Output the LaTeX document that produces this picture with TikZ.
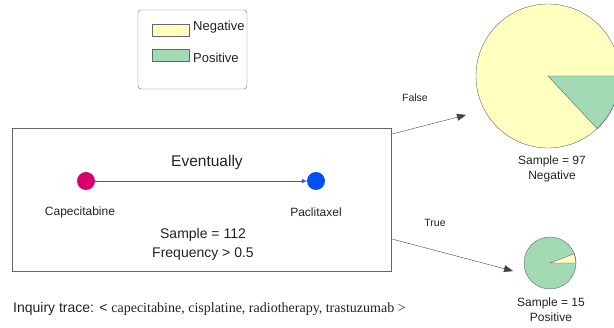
\documentclass[tikz,border=0pt]{standalone}
\usepackage{fontspec}
\setmainfont{Liberation Sans}
\newfontfamily\tracefont{Liberation Serif}
\usetikzlibrary{positioning, arrows.meta}
\definecolor{borde}{HTML}{666666}
\definecolor{negativo}{HTML}{FFFFC0}
\definecolor{positivo}{HTML}{A3D9B5}
\definecolor{rosa}{HTML}{D6006F}
\definecolor{azul}{HTML}{0050EF}
\definecolor{linea}{HTML}{4747E6}
\definecolor{flecha}{HTML}{444444}
\definecolor{texto}{HTML}{222222}
\tikzset{
  swatch/.style={draw=borde, minimum width=37pt, minimum height=12pt, inner sep=0pt},
  drugdot/.style={circle, minimum size=18pt, inner sep=0pt},
  branch/.style={draw=flecha, -{Triangle[length=9pt, width=7pt]}},
  lbl/.style={text=texto, align=center, inner sep=0pt},
}

\begin{document}
\begin{tikzpicture}[x=1pt, y=-1pt]
			\useasboundingbox (0,0) rectangle (614,328);
			% legend
			\node[draw=borde, rounded corners=3pt, minimum width=109pt, minimum height=79pt] (legend) at (192.5,49.5) {};
			\node[swatch, fill=negativo] (negsw) at (170.5,30) {};
			\node[swatch, fill=positivo] (possw) at (170.5,55) {};
			\node[lbl, anchor=west, font=\fontsize{13}{15}\selectfont] (neglbl) at (193,27) {Negative};
			\node[lbl, anchor=west, font=\fontsize{13}{15}\selectfont] (poslbl) at (193,58) {Positive};
			% pattern box
			\node[draw=borde, minimum width=379pt, minimum height=143pt] (box) at (201.5,199.5) {};
			\node[lbl, font=\fontsize{15.5}{18}\selectfont] (event) at (207,162) {Eventually};
			\node[drugdot, fill=rosa] (cape) at (86,181) {};
			\node[drugdot, fill=azul] (pacli) at (316,181) {};
			\draw[linea, -{Triangle[length=5pt, width=4pt]}] (cape) -- (pacli);
			\node[lbl, font=\fontsize{12}{14}\selectfont] (capelbl) at (80,212) {Capecitabine};
			\node[lbl, font=\fontsize{12}{14}\selectfont] (paclilbl) at (316,212) {Paclitaxel};
			\node[lbl, font=\fontsize{14}{19}\selectfont] (stats) at (203,244.5) {Sample = 112\\Frequency > 0.5};
			% negative leaf
			\begin{scope}
				\clip (0,0) rectangle (614,328);
				\node[circle, minimum size=144pt, inner sep=0pt] (negpie) at (548,76) {};
				\fill[negativo] (negpie.center) circle (72);
				\fill[positivo, draw=borde] (negpie.center) -- ++(72,0) arc[start angle=0, end angle=47, radius=72] -- cycle;
				\draw[borde] (negpie.center) circle (72);
			\end{scope}
			\node[lbl, font=\fontsize{12}{15}\selectfont] (neginfo) at (552,168.5) {Sample = 97\\Negative};
			% positive leaf
			\node[circle, minimum size=52pt, inner sep=0pt] (pospie) at (550,263) {};
			\fill[positivo] (pospie.center) circle (26);
			\fill[negativo, draw=borde] (pospie.center) -- ++(26,0) arc[start angle=0, end angle=-21, radius=26] -- cycle;
			\draw[borde] (pospie.center) circle (26);
			\node[lbl, font=\fontsize{12}{15}\selectfont] (posinfo) at (551,310) {Sample = 15\\Positive};
			% branches
			\coordinate (falsestart) at (392,134);
			\coordinate (falseend) at (466,115);
			\coordinate (truestart) at (392,239);
			\coordinate (trueend) at (513,271);
			\draw[branch] (falsestart) -- (falseend);
			\draw[branch] (truestart) -- (trueend);
			\node[lbl, font=\fontsize{10.5}{12}\selectfont] (falselbl) at (415,98) {False};
			\node[lbl, font=\fontsize{10.5}{12}\selectfont] (truelbl) at (435,223) {True};
			% trace
			\node[lbl, anchor=west, font=\fontsize{14}{16}\selectfont] (trace) at (13,309) {Inquiry trace: < {\tracefont capecitabine, cisplatine, radiotherapy, trastuzumab >}};
		\end{tikzpicture}
\end{document}
